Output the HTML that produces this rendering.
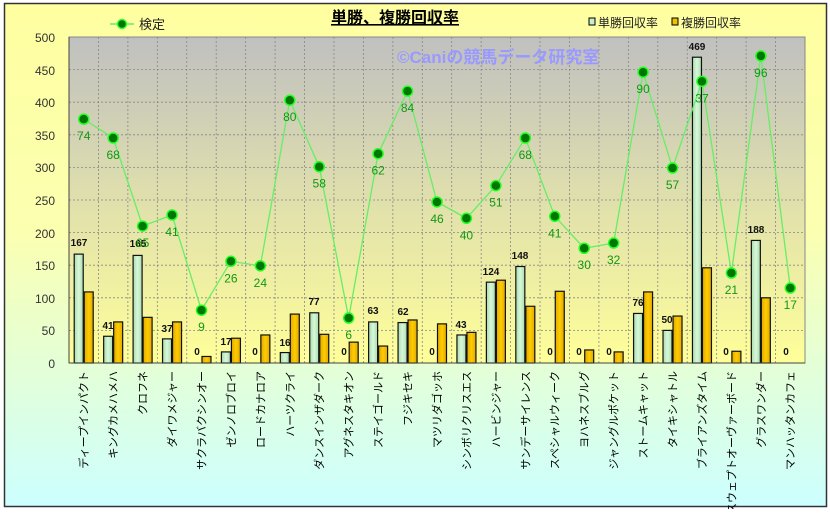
<!DOCTYPE html>
<html><head><meta charset="utf-8"><style>
html,body{margin:0;padding:0;}
body{width:830px;height:509px;overflow:hidden;}
text{font-family:"Liberation Sans","Noto Sans CJK JP",sans-serif;}
</style></head><body>
<svg id="s" width="830" height="509" xmlns="http://www.w3.org/2000/svg">
<defs>
<linearGradient id="bg" x1="0" y1="0" x2="0" y2="1"><stop offset="0" stop-color="#ffffa0"/><stop offset="0.45" stop-color="#fbffb0"/><stop offset="1" stop-color="#ccffff"/></linearGradient>
<linearGradient id="pa" x1="0" y1="0" x2="0" y2="1"><stop offset="0" stop-color="#c0c0c0"/><stop offset="1" stop-color="#ffff99"/></linearGradient>
<linearGradient id="gb" x1="0" y1="0" x2="1" y2="0"><stop offset="0" stop-color="#a8dcb0"/><stop offset="0.5" stop-color="#d8f8d8"/><stop offset="1" stop-color="#a8dcb0"/></linearGradient>
<linearGradient id="yb" x1="0" y1="0" x2="1" y2="0"><stop offset="0" stop-color="#e0a800"/><stop offset="0.5" stop-color="#ffcc00"/><stop offset="1" stop-color="#e0a800"/></linearGradient>
</defs>
<rect x="4.5" y="3.5" width="822" height="503" fill="url(#bg)" stroke="#333" stroke-width="1.5"/>
<rect x="69" y="37" width="736" height="326" fill="url(#pa)" stroke="#888" stroke-width="1"/>
<g id="grid"></g>
<g id="bars"></g>
<g id="line"></g>
<line x1="69" y1="37" x2="69" y2="363" stroke="#444"/>
<line x1="69" y1="363" x2="805" y2="363" stroke="#444"/>
<text x="395" y="23" font-size="16" font-weight="bold" text-anchor="middle" text-decoration="underline">単勝、複勝回収率</text>
<text x="397" y="63" font-size="17" font-weight="bold" fill="#9999ff">©Caniの競馬データ研究室</text>
<line x1="110" y1="24" x2="134" y2="24" stroke="#66ee66" stroke-width="1.5"/>
<circle cx="122" cy="24" r="4.5" fill="#007700" stroke="#33ff33" stroke-width="1.5"/>
<text x="139" y="29" font-size="13" fill="#222">検定</text>
<rect x="589" y="18" width="6" height="7" fill="#c8f0c8" stroke="#000"/>
<text x="598" y="27" font-size="12" fill="#222">単勝回収率</text>
<rect x="672" y="18" width="6" height="7" fill="#f0c000" stroke="#000"/>
<text x="681" y="27" font-size="12" fill="#222">複勝回収率</text>
<g font-size="12" fill="#333" text-anchor="end">
<text x="55" y="42">500</text><text x="55" y="75">450</text><text x="55" y="107">400</text><text x="55" y="140">350</text><text x="55" y="172">300</text><text x="55" y="205">250</text><text x="55" y="238">200</text><text x="55" y="270">150</text><text x="55" y="303">100</text><text x="55" y="335">50</text><text x="55" y="368">0</text>
</g>
<g font-size="11" fill="#000" text-anchor="end">
<text transform="translate(87.7,371) rotate(-90)">ディープインパクト</text>
<text transform="translate(117.2,371) rotate(-90)">キングカメハメハ</text>
<text transform="translate(146.6,371) rotate(-90)">クロフネ</text>
<text transform="translate(176,371) rotate(-90)">ダイワメジャー</text>
<text transform="translate(205.5,371) rotate(-90)">サクラバクシンオー</text>
<text transform="translate(234.9,371) rotate(-90)">ゼンノロブロイ</text>
<text transform="translate(264.3,371) rotate(-90)">ロードカナロア</text>
<text transform="translate(293.8,371) rotate(-90)">ハーツクライ</text>
<text transform="translate(323.2,371) rotate(-90)">ダンスインザダーク</text>
<text transform="translate(352.7,371) rotate(-90)">アグネスタキオン</text>
<text transform="translate(382.1,371) rotate(-90)">ステイゴールド</text>
<text transform="translate(411.5,371) rotate(-90)">フジキセキ</text>
<text transform="translate(441,371) rotate(-90)">マツリダゴッホ</text>
<text transform="translate(470.4,371) rotate(-90)">シンボリクリスエス</text>
<text transform="translate(499.9,371) rotate(-90)">ハービンジャー</text>
<text transform="translate(529.3,371) rotate(-90)">サンデーサイレンス</text>
<text transform="translate(558.7,371) rotate(-90)">スペシャルウィーク</text>
<text transform="translate(588.2,371) rotate(-90)">ヨハネスブルグ</text>
<text transform="translate(617.6,371) rotate(-90)">ジャングルポケット</text>
<text transform="translate(647,371) rotate(-90)">ストームキャット</text>
<text transform="translate(676.5,371) rotate(-90)">タイキシャトル</text>
<text transform="translate(705.9,371) rotate(-90)">ブライアンズタイム</text>
<text transform="translate(735.4,371) rotate(-90)">スウェプトオーヴァーボード</text>
<text transform="translate(764.8,371) rotate(-90)">グラスワンダー</text>
<text transform="translate(794.2,371) rotate(-90)">マンハッタンカフェ</text>
</g>
<g id="lbl" font-size="10" font-weight="bold" fill="#111" text-anchor="middle">
<text x="79" y="246">167</text><text x="108" y="329">41</text><text x="138" y="247">165</text><text x="167" y="332">37</text><text x="197" y="355">0</text><text x="226" y="345">17</text><text x="255" y="355">0</text><text x="285" y="346">16</text><text x="314" y="305">77</text><text x="344" y="355">0</text><text x="373" y="314">63</text><text x="403" y="315">62</text><text x="432" y="355">0</text><text x="461" y="328">43</text><text x="491" y="275">124</text><text x="520" y="259">148</text><text x="550" y="355">0</text><text x="579" y="355">0</text><text x="609" y="355">0</text><text x="638" y="306">76</text><text x="667" y="323">50</text><text x="697" y="50">469</text><text x="726" y="355">0</text><text x="756" y="233">188</text><text x="786" y="355">0</text>
</g>
<g id="ll" font-size="12" fill="#119911" text-anchor="middle"></g>
</svg>
<script>
var ns="http://www.w3.org/2000/svg",s=document.getElementById("s");
function el(p,t,a){var e=document.createElementNS(ns,t);for(var k in a)e.setAttribute(k,a[k]);document.getElementById(p).appendChild(e);return e;}
var W=736/25;function X(i){return 69+W*(i+0.5);}function Y(v){return 363-0.652*v;}
for(var i=1;i<25;i++){var x=69+W*i;el("grid","line",{x1:x,y1:37,x2:x,y2:363,stroke:"#888","stroke-dasharray":"2,2","stroke-width":0.8});}
for(var v=50;v<500;v+=50){el("grid","line",{x1:69,y1:Y(v),x2:805,y2:Y(v),stroke:"#888","stroke-dasharray":"2,2","stroke-width":0.8});}
var t=[167,41,165,37,0,17,0,16,77,0,63,62,0,43,124,148,0,0,0,76,50,469,0,188,0];
var f=[109,63,70,63,10,38,43,75,44,32,26,66,60,47,127,87,110,20,17,109,72,146,18,100,0];
var l=[374,345,210,227,81,156,149,403,301,69,321,417,247,222,272,345,225,176,184,446,299,432,138,471,115];
var ln=[74,68,65,41,9,26,24,80,58,6,62,84,46,40,51,68,41,30,32,90,57,37,21,96,17];
for(var i=0;i<25;i++){var c=X(i);
if(t[i]>0)el("bars","rect",{x:c-9.5,y:Y(t[i]),width:9,height:0.652*t[i],fill:"url(#gb)",stroke:"#111","stroke-width":1.2});
if(f[i]>0)el("bars","rect",{x:c+0.5,y:Y(f[i]),width:9,height:0.652*f[i],fill:"url(#yb)",stroke:"#111","stroke-width":1.2});}
var pts=l.map(function(v,i){return X(i)+","+Y(v);}).join(" ");
el("line","polyline",{points:pts,fill:"none",stroke:"#66ee66","stroke-width":1.3});
for(var i=0;i<25;i++){el("line","circle",{cx:X(i),cy:Y(l[i]),r:5,fill:"#007700",stroke:"#22ff22","stroke-width":1.5});
var tx=el("ll","text",{x:X(i),y:Y(l[i])+21});tx.textContent=ln[i];}
</script>
</body></html>
